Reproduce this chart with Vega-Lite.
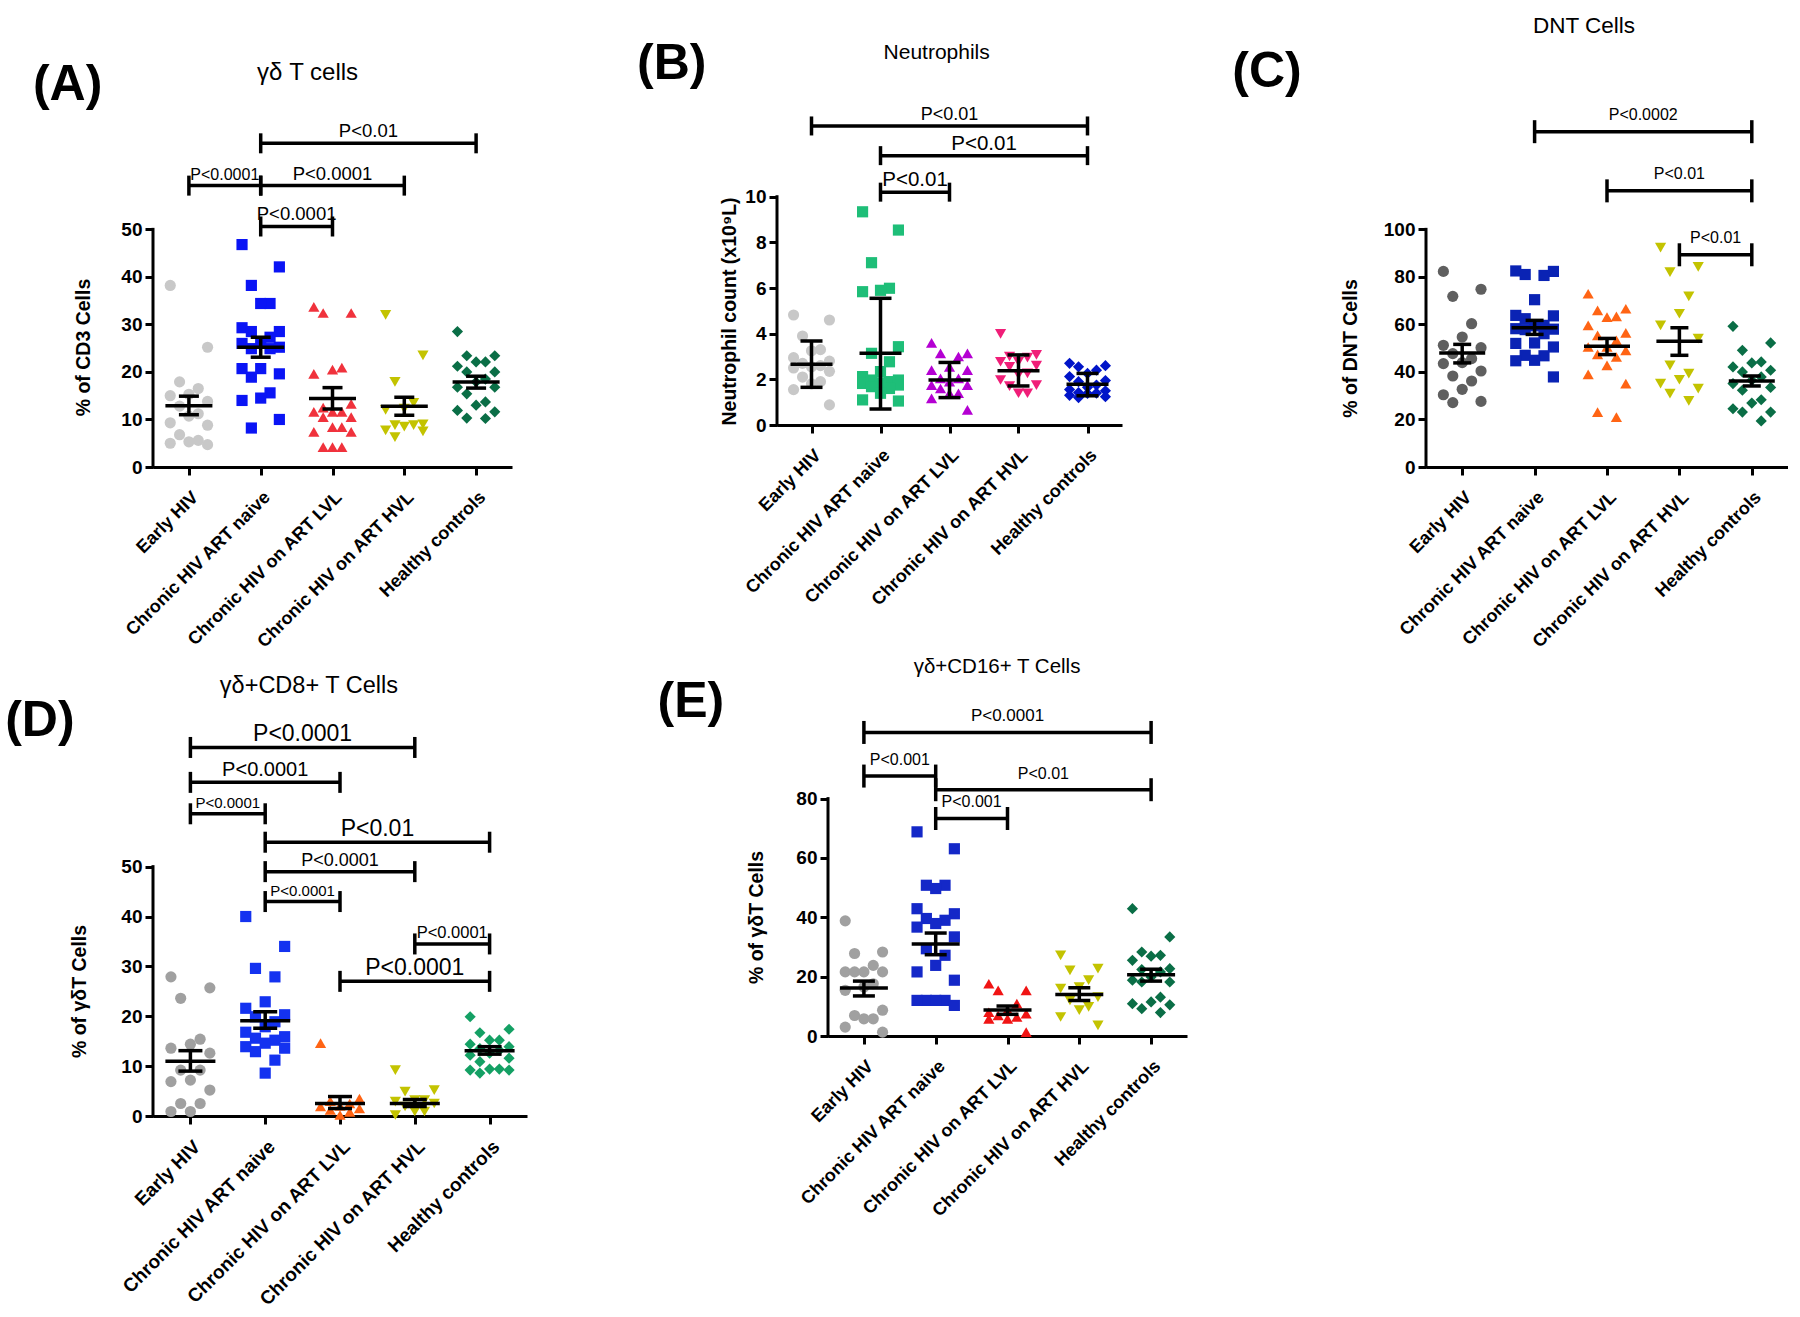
{
"$schema": "https://vega.github.io/schema/vega-lite/v6.json",
"background": "white",
"padding": {"left": 5, "top": 10, "right": 0, "bottom": 0},
"config": {
  "view": {"stroke": null},
  "font": "Liberation Sans",
  "axis": {"grid": false, "domainColor": "black", "domainWidth": 3, "tickColor": "black", "tickWidth": 3, "tickSize": 8, "labelColor": "black", "labelFont": "Liberation Sans", "labelFontWeight": "bold", "labelFontSize": 18, "labelPadding": 3, "titleFont": "Liberation Sans", "titleFontWeight": "bold", "titleFontSize": 19.5, "titleColor": "black"},
  "axisX": {"labelLimit": 400},
  "axisY": {"labelFontSize": 19},
  "text": {"font": "Liberation Sans", "color": "black"}
},
"datasets": {
  "A": [
    {"group":"Early HIV","value":38.2},{"group":"Early HIV","value":25.2},{"group":"Early HIV","value":17.9},{"group":"Early HIV","value":16.5},{"group":"Early HIV","value":15.3},{"group":"Early HIV","value":15.0},{"group":"Early HIV","value":13.8},{"group":"Early HIV","value":12.8},{"group":"Early HIV","value":11.2},{"group":"Early HIV","value":10.7},{"group":"Early HIV","value":9.3},{"group":"Early HIV","value":8.8},{"group":"Early HIV","value":6.8},{"group":"Early HIV","value":5.6},{"group":"Early HIV","value":5.3},{"group":"Early HIV","value":5.0},{"group":"Early HIV","value":4.7},
    {"group":"Chronic HIV ART naive","value":46.8},{"group":"Chronic HIV ART naive","value":42.1},{"group":"Chronic HIV ART naive","value":38.2},{"group":"Chronic HIV ART naive","value":34.4},{"group":"Chronic HIV ART naive","value":34.4},{"group":"Chronic HIV ART naive","value":29.3},{"group":"Chronic HIV ART naive","value":28.5},{"group":"Chronic HIV ART naive","value":28.5},{"group":"Chronic HIV ART naive","value":27.3},{"group":"Chronic HIV ART naive","value":26.3},{"group":"Chronic HIV ART naive","value":26.0},{"group":"Chronic HIV ART naive","value":25.2},{"group":"Chronic HIV ART naive","value":24.9},{"group":"Chronic HIV ART naive","value":24.9},{"group":"Chronic HIV ART naive","value":20.7},{"group":"Chronic HIV ART naive","value":20.7},{"group":"Chronic HIV ART naive","value":19.6},{"group":"Chronic HIV ART naive","value":18.9},{"group":"Chronic HIV ART naive","value":15.6},{"group":"Chronic HIV ART naive","value":14.5},{"group":"Chronic HIV ART naive","value":14.0},{"group":"Chronic HIV ART naive","value":10.0},{"group":"Chronic HIV ART naive","value":8.2},
    {"group":"Chronic HIV on ART LVL","value":33.7},{"group":"Chronic HIV on ART LVL","value":32.4},{"group":"Chronic HIV on ART LVL","value":32.4},{"group":"Chronic HIV on ART LVL","value":20.9},{"group":"Chronic HIV on ART LVL","value":20.5},{"group":"Chronic HIV on ART LVL","value":19.6},{"group":"Chronic HIV on ART LVL","value":13.3},{"group":"Chronic HIV on ART LVL","value":12.5},{"group":"Chronic HIV on ART LVL","value":11.6},{"group":"Chronic HIV on ART LVL","value":11.6},{"group":"Chronic HIV on ART LVL","value":11.6},{"group":"Chronic HIV on ART LVL","value":10.5},{"group":"Chronic HIV on ART LVL","value":10.5},{"group":"Chronic HIV on ART LVL","value":8.4},{"group":"Chronic HIV on ART LVL","value":8.4},{"group":"Chronic HIV on ART LVL","value":7.4},{"group":"Chronic HIV on ART LVL","value":7.4},{"group":"Chronic HIV on ART LVL","value":4.2},{"group":"Chronic HIV on ART LVL","value":4.2},{"group":"Chronic HIV on ART LVL","value":4.2},
    {"group":"Chronic HIV on ART HVL","value":32.0},{"group":"Chronic HIV on ART HVL","value":23.5},{"group":"Chronic HIV on ART HVL","value":17.9},{"group":"Chronic HIV on ART HVL","value":13.5},{"group":"Chronic HIV on ART HVL","value":12.3},{"group":"Chronic HIV on ART HVL","value":12.0},{"group":"Chronic HIV on ART HVL","value":9.0},{"group":"Chronic HIV on ART HVL","value":8.8},{"group":"Chronic HIV on ART HVL","value":8.8},{"group":"Chronic HIV on ART HVL","value":8.5},{"group":"Chronic HIV on ART HVL","value":7.7},{"group":"Chronic HIV on ART HVL","value":7.5},{"group":"Chronic HIV on ART HVL","value":6.3},
    {"group":"Healthy controls","value":28.5},{"group":"Healthy controls","value":23.4},{"group":"Healthy controls","value":23.4},{"group":"Healthy controls","value":22.1},{"group":"Healthy controls","value":22.1},{"group":"Healthy controls","value":21.2},{"group":"Healthy controls","value":20.0},{"group":"Healthy controls","value":20.0},{"group":"Healthy controls","value":18.5},{"group":"Healthy controls","value":17.9},{"group":"Healthy controls","value":16.8},{"group":"Healthy controls","value":16.8},{"group":"Healthy controls","value":15.4},{"group":"Healthy controls","value":13.7},{"group":"Healthy controls","value":13.0},{"group":"Healthy controls","value":11.9},{"group":"Healthy controls","value":11.6},{"group":"Healthy controls","value":10.3},{"group":"Healthy controls","value":10.2}
  ],
  "A_stats": [
    {"group":"Early HIV","mean":12.9,"lo":11.0,"hi":14.9},
    {"group":"Chronic HIV ART naive","mean":25.2,"lo":23.1,"hi":27.3},
    {"group":"Chronic HIV on ART LVL","mean":14.4,"lo":12.2,"hi":16.7},
    {"group":"Chronic HIV on ART HVL","mean":12.8,"lo":10.9,"hi":14.7},
    {"group":"Healthy controls","mean":17.9,"lo":16.6,"hi":19.1}
  ],
  "A_br": [
    {"from":"Chronic HIV ART naive","to":"Healthy controls","level":68.1,"label":"P<0.01"},
    {"from":"Early HIV","to":"Chronic HIV ART naive","level":59.2,"label":"P<0.0001"},
    {"from":"Chronic HIV ART naive","to":"Chronic HIV on ART HVL","level":59.2,"label":"P<0.0001"},
    {"from":"Chronic HIV ART naive","to":"Chronic HIV on ART LVL","level":50.6,"label":"P<0.0001"}
  ],
  "B": [
    {"group":"Early HIV","value":4.82},{"group":"Early HIV","value":4.6},{"group":"Early HIV","value":3.9},{"group":"Early HIV","value":3.3},{"group":"Early HIV","value":3.25},{"group":"Early HIV","value":2.95},{"group":"Early HIV","value":2.8},{"group":"Early HIV","value":2.7},{"group":"Early HIV","value":2.6},{"group":"Early HIV","value":2.55},{"group":"Early HIV","value":2.5},{"group":"Early HIV","value":2.35},{"group":"Early HIV","value":2.1},{"group":"Early HIV","value":1.9},{"group":"Early HIV","value":1.8},{"group":"Early HIV","value":1.55},{"group":"Early HIV","value":0.88},
    {"group":"Chronic HIV ART naive","value":9.34},{"group":"Chronic HIV ART naive","value":8.54},{"group":"Chronic HIV ART naive","value":7.11},{"group":"Chronic HIV ART naive","value":5.99},{"group":"Chronic HIV ART naive","value":5.9},{"group":"Chronic HIV ART naive","value":5.84},{"group":"Chronic HIV ART naive","value":3.43},{"group":"Chronic HIV ART naive","value":3.14},{"group":"Chronic HIV ART naive","value":2.77},{"group":"Chronic HIV ART naive","value":2.34},{"group":"Chronic HIV ART naive","value":2.12},{"group":"Chronic HIV ART naive","value":1.97},{"group":"Chronic HIV ART naive","value":1.97},{"group":"Chronic HIV ART naive","value":1.9},{"group":"Chronic HIV ART naive","value":1.85},{"group":"Chronic HIV ART naive","value":1.82},{"group":"Chronic HIV ART naive","value":1.75},{"group":"Chronic HIV ART naive","value":1.68},{"group":"Chronic HIV ART naive","value":1.6},{"group":"Chronic HIV ART naive","value":1.39},{"group":"Chronic HIV ART naive","value":1.1},{"group":"Chronic HIV ART naive","value":1.05},
    {"group":"Chronic HIV on ART LVL","value":3.6},{"group":"Chronic HIV on ART LVL","value":3.14},{"group":"Chronic HIV on ART LVL","value":3.14},{"group":"Chronic HIV on ART LVL","value":3.0},{"group":"Chronic HIV on ART LVL","value":2.55},{"group":"Chronic HIV on ART LVL","value":2.4},{"group":"Chronic HIV on ART LVL","value":2.4},{"group":"Chronic HIV on ART LVL","value":2.04},{"group":"Chronic HIV on ART LVL","value":2.04},{"group":"Chronic HIV on ART LVL","value":1.9},{"group":"Chronic HIV on ART LVL","value":1.75},{"group":"Chronic HIV on ART LVL","value":1.75},{"group":"Chronic HIV on ART LVL","value":1.6},{"group":"Chronic HIV on ART LVL","value":1.39},{"group":"Chronic HIV on ART LVL","value":1.39},{"group":"Chronic HIV on ART LVL","value":1.17},{"group":"Chronic HIV on ART LVL","value":0.66},
    {"group":"Chronic HIV on ART HVL","value":3.99},{"group":"Chronic HIV on ART HVL","value":3.07},{"group":"Chronic HIV on ART HVL","value":3.0},{"group":"Chronic HIV on ART HVL","value":2.95},{"group":"Chronic HIV on ART HVL","value":2.77},{"group":"Chronic HIV on ART HVL","value":2.77},{"group":"Chronic HIV on ART HVL","value":2.6},{"group":"Chronic HIV on ART HVL","value":2.55},{"group":"Chronic HIV on ART HVL","value":2.26},{"group":"Chronic HIV on ART HVL","value":2.2},{"group":"Chronic HIV on ART HVL","value":1.97},{"group":"Chronic HIV on ART HVL","value":1.75},{"group":"Chronic HIV on ART HVL","value":1.7},{"group":"Chronic HIV on ART HVL","value":1.39},{"group":"Chronic HIV on ART HVL","value":1.39},
    {"group":"Healthy controls","value":2.7},{"group":"Healthy controls","value":2.6},{"group":"Healthy controls","value":2.55},{"group":"Healthy controls","value":2.4},{"group":"Healthy controls","value":2.26},{"group":"Healthy controls","value":2.12},{"group":"Healthy controls","value":1.95},{"group":"Healthy controls","value":1.9},{"group":"Healthy controls","value":1.75},{"group":"Healthy controls","value":1.65},{"group":"Healthy controls","value":1.55},{"group":"Healthy controls","value":1.5},{"group":"Healthy controls","value":1.42},{"group":"Healthy controls","value":1.4},{"group":"Healthy controls","value":1.38},{"group":"Healthy controls","value":1.3},{"group":"Healthy controls","value":1.24},{"group":"Healthy controls","value":1.2}
  ],
  "B_stats": [
    {"group":"Early HIV","mean":2.66,"lo":1.65,"hi":3.68},
    {"group":"Chronic HIV ART naive","mean":3.14,"lo":0.70,"hi":5.55},
    {"group":"Chronic HIV on ART LVL","mean":1.97,"lo":1.20,"hi":2.74},
    {"group":"Chronic HIV on ART HVL","mean":2.38,"lo":1.71,"hi":3.07},
    {"group":"Healthy controls","mean":1.78,"lo":1.28,"hi":2.26}
  ],
  "B_br": [
    {"from":"Early HIV","to":"Healthy controls","level":13.1,"label":"P<0.01"},
    {"from":"Chronic HIV ART naive","to":"Healthy controls","level":11.8,"label":"P<0.01"},
    {"from":"Chronic HIV ART naive","to":"Chronic HIV on ART LVL","level":10.2,"label":"P<0.01"}
  ],
  "C": [
    {"group":"Early HIV","value":82.3},{"group":"Early HIV","value":74.8},{"group":"Early HIV","value":71.8},{"group":"Early HIV","value":60.3},{"group":"Early HIV","value":54.7},{"group":"Early HIV","value":51.2},{"group":"Early HIV","value":50.2},{"group":"Early HIV","value":47.7},{"group":"Early HIV","value":45.6},{"group":"Early HIV","value":43.9},{"group":"Early HIV","value":43.5},{"group":"Early HIV","value":40.4},{"group":"Early HIV","value":38.3},{"group":"Early HIV","value":36.2},{"group":"Early HIV","value":32.7},{"group":"Early HIV","value":30.4},{"group":"Early HIV","value":27.6},{"group":"Early HIV","value":27.1},
    {"group":"Chronic HIV ART naive","value":82.5},{"group":"Chronic HIV ART naive","value":82.3},{"group":"Chronic HIV ART naive","value":81.0},{"group":"Chronic HIV ART naive","value":80.6},{"group":"Chronic HIV ART naive","value":70.4},{"group":"Chronic HIV ART naive","value":63.8},{"group":"Chronic HIV ART naive","value":63.6},{"group":"Chronic HIV ART naive","value":62.4},{"group":"Chronic HIV ART naive","value":59.6},{"group":"Chronic HIV ART naive","value":59.4},{"group":"Chronic HIV ART naive","value":58.2},{"group":"Chronic HIV ART naive","value":58.0},{"group":"Chronic HIV ART naive","value":57.8},{"group":"Chronic HIV ART naive","value":56.1},{"group":"Chronic HIV ART naive","value":52.2},{"group":"Chronic HIV ART naive","value":52.0},{"group":"Chronic HIV ART naive","value":50.5},{"group":"Chronic HIV ART naive","value":47.0},{"group":"Chronic HIV ART naive","value":46.8},{"group":"Chronic HIV ART naive","value":44.9},{"group":"Chronic HIV ART naive","value":44.7},{"group":"Chronic HIV ART naive","value":37.9},
    {"group":"Chronic HIV on ART LVL","value":72.9},{"group":"Chronic HIV on ART LVL","value":66.6},{"group":"Chronic HIV on ART LVL","value":65.9},{"group":"Chronic HIV on ART LVL","value":63.4},{"group":"Chronic HIV on ART LVL","value":63.1},{"group":"Chronic HIV on ART LVL","value":59.6},{"group":"Chronic HIV on ART LVL","value":56.4},{"group":"Chronic HIV on ART LVL","value":55.4},{"group":"Chronic HIV on ART LVL","value":53.3},{"group":"Chronic HIV on ART LVL","value":50.5},{"group":"Chronic HIV on ART LVL","value":50.5},{"group":"Chronic HIV on ART LVL","value":49.1},{"group":"Chronic HIV on ART LVL","value":47.4},{"group":"Chronic HIV on ART LVL","value":46.3},{"group":"Chronic HIV on ART LVL","value":42.8},{"group":"Chronic HIV on ART LVL","value":39.0},{"group":"Chronic HIV on ART LVL","value":35.1},{"group":"Chronic HIV on ART LVL","value":23.1},{"group":"Chronic HIV on ART LVL","value":21.0},
    {"group":"Chronic HIV on ART HVL","value":92.3},{"group":"Chronic HIV on ART HVL","value":84.2},{"group":"Chronic HIV on ART HVL","value":82.0},{"group":"Chronic HIV on ART HVL","value":71.8},{"group":"Chronic HIV on ART HVL","value":64.5},{"group":"Chronic HIV on ART HVL","value":59.6},{"group":"Chronic HIV on ART HVL","value":54.0},{"group":"Chronic HIV on ART HVL","value":42.8},{"group":"Chronic HIV on ART HVL","value":39.3},{"group":"Chronic HIV on ART HVL","value":36.7},{"group":"Chronic HIV on ART HVL","value":35.1},{"group":"Chronic HIV on ART HVL","value":33.0},{"group":"Chronic HIV on ART HVL","value":30.9},{"group":"Chronic HIV on ART HVL","value":27.8},
    {"group":"Healthy controls","value":59.2},{"group":"Healthy controls","value":52.2},{"group":"Healthy controls","value":49.1},{"group":"Healthy controls","value":44.2},{"group":"Healthy controls","value":43.8},{"group":"Healthy controls","value":42.1},{"group":"Healthy controls","value":40.7},{"group":"Healthy controls","value":40.0},{"group":"Healthy controls","value":37.9},{"group":"Healthy controls","value":36.5},{"group":"Healthy controls","value":35.1},{"group":"Healthy controls","value":33.5},{"group":"Healthy controls","value":32.3},{"group":"Healthy controls","value":28.3},{"group":"Healthy controls","value":26.9},{"group":"Healthy controls","value":24.5},{"group":"Healthy controls","value":23.1},{"group":"Healthy controls","value":23.1},{"group":"Healthy controls","value":19.4}
  ],
  "C_stats": [
    {"group":"Early HIV","mean":48.0,"lo":43.8,"hi":51.6},
    {"group":"Chronic HIV ART naive","mean":58.6,"lo":55.8,"hi":61.7},
    {"group":"Chronic HIV on ART LVL","mean":50.8,"lo":47.3,"hi":54.1},
    {"group":"Chronic HIV on ART HVL","mean":52.9,"lo":47.0,"hi":58.6},
    {"group":"Healthy controls","mean":36.2,"lo":34.1,"hi":38.3}
  ],
  "C_br": [
    {"from":"Chronic HIV ART naive","to":"Healthy controls","level":141.1,"label":"P<0.0002"},
    {"from":"Chronic HIV on ART LVL","to":"Healthy controls","level":116.2,"label":"P<0.01"},
    {"from":"Chronic HIV on ART HVL","to":"Healthy controls","level":89.3,"label":"P<0.01"}
  ],
  "D": [
    {"group":"Early HIV","value":27.9},{"group":"Early HIV","value":25.7},{"group":"Early HIV","value":23.6},{"group":"Early HIV","value":15.4},{"group":"Early HIV","value":14.4},{"group":"Early HIV","value":13.6},{"group":"Early HIV","value":12.6},{"group":"Early HIV","value":9.2},{"group":"Early HIV","value":9.2},{"group":"Early HIV","value":7.2},{"group":"Early HIV","value":6.9},{"group":"Early HIV","value":5.2},{"group":"Early HIV","value":2.5},{"group":"Early HIV","value":2.5},{"group":"Early HIV","value":0.9},{"group":"Early HIV","value":0.9},
    {"group":"Chronic HIV ART naive","value":40.0},{"group":"Chronic HIV ART naive","value":34.0},{"group":"Chronic HIV ART naive","value":29.6},{"group":"Chronic HIV ART naive","value":27.9},{"group":"Chronic HIV ART naive","value":22.9},{"group":"Chronic HIV ART naive","value":21.6},{"group":"Chronic HIV ART naive","value":20.3},{"group":"Chronic HIV ART naive","value":19.9},{"group":"Chronic HIV ART naive","value":18.9},{"group":"Chronic HIV ART naive","value":17.9},{"group":"Chronic HIV ART naive","value":16.8},{"group":"Chronic HIV ART naive","value":15.9},{"group":"Chronic HIV ART naive","value":15.6},{"group":"Chronic HIV ART naive","value":15.2},{"group":"Chronic HIV ART naive","value":14.6},{"group":"Chronic HIV ART naive","value":13.9},{"group":"Chronic HIV ART naive","value":13.6},{"group":"Chronic HIV ART naive","value":12.9},{"group":"Chronic HIV ART naive","value":11.2},{"group":"Chronic HIV ART naive","value":8.6},
    {"group":"Chronic HIV on ART LVL","value":14.6},{"group":"Chronic HIV on ART LVL","value":3.5},{"group":"Chronic HIV on ART LVL","value":3.0},{"group":"Chronic HIV on ART LVL","value":2.5},{"group":"Chronic HIV on ART LVL","value":2.0},{"group":"Chronic HIV on ART LVL","value":1.9},{"group":"Chronic HIV on ART LVL","value":1.5},{"group":"Chronic HIV on ART LVL","value":1.2},{"group":"Chronic HIV on ART LVL","value":0.8},{"group":"Chronic HIV on ART LVL","value":0.2},
    {"group":"Chronic HIV on ART HVL","value":9.2},{"group":"Chronic HIV on ART HVL","value":5.2},{"group":"Chronic HIV on ART HVL","value":4.9},{"group":"Chronic HIV on ART HVL","value":3.2},{"group":"Chronic HIV on ART HVL","value":3.2},{"group":"Chronic HIV on ART HVL","value":2.9},{"group":"Chronic HIV on ART HVL","value":2.5},{"group":"Chronic HIV on ART HVL","value":1.9},{"group":"Chronic HIV on ART HVL","value":0.9},{"group":"Chronic HIV on ART HVL","value":0.9},{"group":"Chronic HIV on ART HVL","value":0.2},
    {"group":"Healthy controls","value":19.9},{"group":"Healthy controls","value":17.4},{"group":"Healthy controls","value":16.7},{"group":"Healthy controls","value":15.2},{"group":"Healthy controls","value":15.2},{"group":"Healthy controls","value":14.4},{"group":"Healthy controls","value":13.9},{"group":"Healthy controls","value":13.5},{"group":"Healthy controls","value":13.2},{"group":"Healthy controls","value":12.6},{"group":"Healthy controls","value":12.2},{"group":"Healthy controls","value":11.6},{"group":"Healthy controls","value":10.9},{"group":"Healthy controls","value":9.4},{"group":"Healthy controls","value":9.4},{"group":"Healthy controls","value":9.2},{"group":"Healthy controls","value":9.2},{"group":"Healthy controls","value":8.6}
  ],
  "D_stats": [
    {"group":"Early HIV","mean":11.0,"lo":9.0,"hi":13.1},
    {"group":"Chronic HIV ART naive","mean":19.1,"lo":17.6,"hi":20.9},
    {"group":"Chronic HIV on ART LVL","mean":2.5,"lo":1.5,"hi":3.9},
    {"group":"Chronic HIV on ART HVL","mean":2.5,"lo":1.9,"hi":3.3},
    {"group":"Healthy controls","mean":13.1,"lo":12.4,"hi":13.9}
  ],
  "D_br": [
    {"from":"Early HIV","to":"Chronic HIV on ART HVL","level":73.9,"label":"P<0.0001"},
    {"from":"Early HIV","to":"Chronic HIV on ART LVL","level":66.9,"label":"P<0.0001"},
    {"from":"Early HIV","to":"Chronic HIV ART naive","level":60.6,"label":"P<0.0001"},
    {"from":"Chronic HIV ART naive","to":"Healthy controls","level":54.9,"label":"P<0.01"},
    {"from":"Chronic HIV ART naive","to":"Chronic HIV on ART HVL","level":49.0,"label":"P<0.0001"},
    {"from":"Chronic HIV ART naive","to":"Chronic HIV on ART LVL","level":43.0,"label":"P<0.0001"},
    {"from":"Chronic HIV on ART HVL","to":"Healthy controls","level":34.5,"label":"P<0.0001"},
    {"from":"Chronic HIV on ART LVL","to":"Healthy controls","level":27.0,"label":"P<0.0001"}
  ],
  "E": [
    {"group":"Early HIV","value":38.8},{"group":"Early HIV","value":28.3},{"group":"Early HIV","value":27.8},{"group":"Early HIV","value":23.8},{"group":"Early HIV","value":21.6},{"group":"Early HIV","value":21.6},{"group":"Early HIV","value":21.6},{"group":"Early HIV","value":21.6},{"group":"Early HIV","value":17.6},{"group":"Early HIV","value":16.5},{"group":"Early HIV","value":15.4},{"group":"Early HIV","value":8.7},{"group":"Early HIV","value":6.9},{"group":"Early HIV","value":5.8},{"group":"Early HIV","value":5.8},{"group":"Early HIV","value":3.0},{"group":"Early HIV","value":1.3},
    {"group":"Chronic HIV ART naive","value":68.8},{"group":"Chronic HIV ART naive","value":63.1},{"group":"Chronic HIV ART naive","value":50.8},{"group":"Chronic HIV ART naive","value":50.8},{"group":"Chronic HIV ART naive","value":49.7},{"group":"Chronic HIV ART naive","value":42.9},{"group":"Chronic HIV ART naive","value":41.2},{"group":"Chronic HIV ART naive","value":39.6},{"group":"Chronic HIV ART naive","value":39.0},{"group":"Chronic HIV ART naive","value":37.9},{"group":"Chronic HIV ART naive","value":36.7},{"group":"Chronic HIV ART naive","value":33.4},{"group":"Chronic HIV ART naive","value":29.4},{"group":"Chronic HIV ART naive","value":27.2},{"group":"Chronic HIV ART naive","value":23.8},{"group":"Chronic HIV ART naive","value":21.6},{"group":"Chronic HIV ART naive","value":18.8},{"group":"Chronic HIV ART naive","value":12.0},{"group":"Chronic HIV ART naive","value":12.0},{"group":"Chronic HIV ART naive","value":12.0},{"group":"Chronic HIV ART naive","value":12.0},{"group":"Chronic HIV ART naive","value":10.3},
    {"group":"Chronic HIV on ART LVL","value":17.6},{"group":"Chronic HIV on ART LVL","value":15.4},{"group":"Chronic HIV on ART LVL","value":15.4},{"group":"Chronic HIV on ART LVL","value":10.9},{"group":"Chronic HIV on ART LVL","value":8.7},{"group":"Chronic HIV on ART LVL","value":8.0},{"group":"Chronic HIV on ART LVL","value":7.5},{"group":"Chronic HIV on ART LVL","value":6.9},{"group":"Chronic HIV on ART LVL","value":6.4},{"group":"Chronic HIV on ART LVL","value":5.8},{"group":"Chronic HIV on ART LVL","value":5.8},{"group":"Chronic HIV on ART LVL","value":1.3},
    {"group":"Chronic HIV on ART HVL","value":27.2},{"group":"Chronic HIV on ART HVL","value":22.7},{"group":"Chronic HIV on ART HVL","value":22.1},{"group":"Chronic HIV on ART HVL","value":18.8},{"group":"Chronic HIV on ART HVL","value":16.5},{"group":"Chronic HIV on ART HVL","value":16.0},{"group":"Chronic HIV on ART HVL","value":13.1},{"group":"Chronic HIV on ART HVL","value":12.0},{"group":"Chronic HIV on ART HVL","value":9.8},{"group":"Chronic HIV on ART HVL","value":8.7},{"group":"Chronic HIV on ART HVL","value":6.4},{"group":"Chronic HIV on ART HVL","value":3.6},
    {"group":"Healthy controls","value":42.9},{"group":"Healthy controls","value":33.4},{"group":"Healthy controls","value":28.3},{"group":"Healthy controls","value":27.2},{"group":"Healthy controls","value":26.9},{"group":"Healthy controls","value":25.5},{"group":"Healthy controls","value":22.7},{"group":"Healthy controls","value":22.4},{"group":"Healthy controls","value":21.6},{"group":"Healthy controls","value":19.9},{"group":"Healthy controls","value":18.8},{"group":"Healthy controls","value":18.2},{"group":"Healthy controls","value":18.2},{"group":"Healthy controls","value":13.1},{"group":"Healthy controls","value":11.5},{"group":"Healthy controls","value":10.9},{"group":"Healthy controls","value":10.5},{"group":"Healthy controls","value":9.2},{"group":"Healthy controls","value":7.9}
  ],
  "E_stats": [
    {"group":"Early HIV","mean":16.2,"lo":13.5,"hi":18.5},
    {"group":"Chronic HIV ART naive","mean":31.0,"lo":27.4,"hi":34.7},
    {"group":"Chronic HIV on ART LVL","mean":8.8,"lo":7.3,"hi":10.1},
    {"group":"Chronic HIV on ART HVL","mean":14.0,"lo":12.0,"hi":16.3},
    {"group":"Healthy controls","mean":20.6,"lo":18.5,"hi":22.5}
  ],
  "E_br": [
    {"from":"Early HIV","to":"Healthy controls","level":102.3,"label":"P<0.0001"},
    {"from":"Early HIV","to":"Chronic HIV ART naive","level":87.6,"label":"P<0.001"},
    {"from":"Chronic HIV ART naive","to":"Healthy controls","level":83.0,"label":"P<0.01"},
    {"from":"Chronic HIV ART naive","to":"Chronic HIV on ART LVL","level":73.3,"label":"P<0.001"}
  ]
},
"resolve": {"scale": {"color": "independent", "shape": "independent"}},
"vconcat": [
 {"resolve": {"scale": {"color": "independent", "shape": "independent"}},
  "hconcat": [
  {"width": 359, "height": 457,
   "layer": [
    {"data": {"name": "A"},
     "transform": [
       {"calculate": "indexof(['Early HIV','Chronic HIV ART naive','Chronic HIV on ART LVL','Chronic HIV on ART HVL','Healthy controls'], datum.group)", "as": "gi"},
       {"window": [{"op": "row_number", "as": "rk"}], "groupby": ["group"], "sort": [{"field": "value", "order": "descending"}]},
       {"calculate": "datum.gi + [0, -0.26, 0.26, -0.13, 0.13][datum.rk % 5]", "as": "xj"}],
     "mark": {"type": "point", "filled": true, "opacity": 1, "size": 125},
     "encoding": {
       "x": {"field": "xj", "type": "quantitative", "scale": {"domain": [-0.5, 4.5], "nice": false, "zero": false},
             "axis": {"values": [0,1,2,3,4], "title": null, "labelExpr": "['Early HIV','Chronic HIV ART naive','Chronic HIV on ART LVL','Chronic HIV on ART HVL','Healthy controls'][datum.value]", "labelAngle": -45, "labelAlign": "right", "labelBaseline": "top", "labelPadding": 13, "labelOverlap": false, "labelFlush": false}},
       "y": {"field": "value", "type": "quantitative", "scale": {"domain": [0, 96.15], "nice": false},
             "axis": {"values": [0,10,20,30,40,50], "domain": false, "title": "% of CD3  Cells", "titleY": 337, "titlePadding": 27, "labelOverlap": false}},
       "color": {"field": "group", "type": "nominal", "legend": null, "scale": {"domain": ["Early HIV","Chronic HIV ART naive","Chronic HIV on ART LVL","Chronic HIV on ART HVL","Healthy controls"], "range": ["#c8c8c8","#0a14f5","#f0323c","#c3c300","#0a6e46"]}},
       "shape": {"field": "group", "type": "nominal", "legend": null, "scale": {"domain": ["Early HIV","Chronic HIV ART naive","Chronic HIV on ART LVL","Chronic HIV on ART HVL","Healthy controls"], "range": ["circle","square","triangle-up","triangle-down","diamond"]}}
     }},
    {"data": {"values": [{}]}, "mark": {"type": "rule", "color": "black", "strokeWidth": 3, "strokeCap": "square"},
     "encoding": {"x": {"datum": -0.5}, "y": {"datum": 0}, "y2": {"datum": 50}}},
    {"data": {"name": "A_stats"}, "transform": [{"calculate": "indexof(['Early HIV','Chronic HIV ART naive','Chronic HIV on ART LVL','Chronic HIV on ART HVL','Healthy controls'], datum.group)", "as": "gi"}],
     "mark": {"type": "rule", "color": "black", "strokeWidth": 3.5},
     "encoding": {"x": {"field": "gi", "type": "quantitative"}, "y": {"field": "lo", "type": "quantitative"}, "y2": {"field": "hi"}}},
    {"data": {"name": "A_stats"}, "transform": [{"calculate": "indexof(['Early HIV','Chronic HIV ART naive','Chronic HIV on ART LVL','Chronic HIV on ART HVL','Healthy controls'], datum.group)", "as": "gi"}],
     "mark": {"type": "tick", "orient": "horizontal", "color": "black", "opacity": 1, "size": 47, "thickness": 3.5},
     "encoding": {"x": {"field": "gi", "type": "quantitative"}, "y": {"field": "mean", "type": "quantitative"}}},
    {"data": {"name": "A_stats"}, "transform": [{"calculate": "indexof(['Early HIV','Chronic HIV ART naive','Chronic HIV on ART LVL','Chronic HIV on ART HVL','Healthy controls'], datum.group)", "as": "gi"}, {"fold": ["lo", "hi"], "as": ["end", "yv"]}],
     "mark": {"type": "tick", "orient": "horizontal", "color": "black", "opacity": 1, "size": 20, "thickness": 3.5},
     "encoding": {"x": {"field": "gi", "type": "quantitative"}, "y": {"field": "yv", "type": "quantitative"}}},
    {"data": {"name": "A_br"}, "transform": [{"calculate": "indexof(['Early HIV','Chronic HIV ART naive','Chronic HIV on ART LVL','Chronic HIV on ART HVL','Healthy controls'], datum.from)", "as": "g1"}, {"calculate": "indexof(['Early HIV','Chronic HIV ART naive','Chronic HIV on ART LVL','Chronic HIV on ART HVL','Healthy controls'], datum.to)", "as": "g2"}],
     "mark": {"type": "rule", "color": "black", "strokeWidth": 3.5},
     "encoding": {"x": {"field": "g1", "type": "quantitative"}, "x2": {"field": "g2"}, "y": {"field": "level", "type": "quantitative"}}},
    {"data": {"name": "A_br"}, "transform": [{"fold": ["from", "to"], "as": ["end", "grp"]}, {"calculate": "indexof(['Early HIV','Chronic HIV ART naive','Chronic HIV on ART LVL','Chronic HIV on ART HVL','Healthy controls'], datum.grp)", "as": "gi"}],
     "mark": {"type": "tick", "orient": "vertical", "color": "black", "opacity": 1, "size": 20, "thickness": 3.5},
     "encoding": {"x": {"field": "gi", "type": "quantitative"}, "y": {"field": "level", "type": "quantitative"}}},
    {"data": {"name": "A_br"}, "transform": [{"calculate": "indexof(['Early HIV','Chronic HIV ART naive','Chronic HIV on ART LVL','Chronic HIV on ART HVL','Healthy controls'], datum.from)", "as": "g1"}, {"calculate": "indexof(['Early HIV','Chronic HIV ART naive','Chronic HIV on ART LVL','Chronic HIV on ART HVL','Healthy controls'], datum.to)", "as": "g2"}, {"calculate": "(datum.g1 + datum.g2) / 2", "as": "xm"}],
     "mark": {"type": "text", "baseline": "alphabetic", "dy": -6},
     "encoding": {"x": {"field": "xm", "type": "quantitative"}, "y": {"field": "level", "type": "quantitative"}, "text": {"field": "label"},
                  "size": {"condition": {"test": "datum.from == 'Early HIV'", "value": 16}, "value": 18.5}}},
    {"data": {"values": [{"label": "γδ T cells"}]}, "mark": {"type": "text", "fontSize": 24},
     "encoding": {"x": {"datum": 1.653}, "y": {"datum": 82.9}, "text": {"field": "label"}}},
    {"data": {"values": [{"label": "(A)"}]}, "mark": {"type": "text", "fontSize": 50, "fontWeight": "bold"},
     "encoding": {"x": {"datum": -1.689}, "y": {"datum": 80.35}, "text": {"field": "label"}}}
   ]},
  {"resolve": {"scale": {"color": "independent", "shape": "independent"}},
   "hconcat": [
   {"width": 345, "height": 415,
    "layer": [
     {"data": {"name": "B"},
      "transform": [
        {"calculate": "indexof(['Early HIV','Chronic HIV ART naive','Chronic HIV on ART LVL','Chronic HIV on ART HVL','Healthy controls'], datum.group)", "as": "gi"},
        {"window": [{"op": "row_number", "as": "rk"}], "groupby": ["group"], "sort": [{"field": "value", "order": "descending"}]},
        {"calculate": "datum.gi + [0, -0.26, 0.26, -0.13, 0.13][datum.rk % 5]", "as": "xj"}],
      "mark": {"type": "point", "filled": true, "opacity": 1, "size": 125},
      "encoding": {
        "x": {"field": "xj", "type": "quantitative", "scale": {"domain": [-0.5, 4.5], "nice": false, "zero": false},
              "axis": {"values": [0,1,2,3,4], "title": null, "labelExpr": "['Early HIV','Chronic HIV ART naive','Chronic HIV on ART LVL','Chronic HIV on ART HVL','Healthy controls'][datum.value]", "labelAngle": -45, "labelAlign": "right", "labelBaseline": "top", "labelPadding": 13, "labelOverlap": false, "labelFlush": false}},
        "y": {"field": "value", "type": "quantitative", "scale": {"domain": [0, 18.18], "nice": false},
              "axis": {"values": [0,2,4,6,8,10], "domain": false, "title": "Neutrophil count (x10⁹L)", "titleY": 301, "titlePadding": 5, "labelOverlap": false}},
        "color": {"field": "group", "type": "nominal", "legend": null, "scale": {"domain": ["Early HIV","Chronic HIV ART naive","Chronic HIV on ART LVL","Chronic HIV on ART HVL","Healthy controls"], "range": ["#c8c8c8","#1ebe78","#b400d2","#f01e78","#0014c8"]}},
        "shape": {"field": "group", "type": "nominal", "legend": null, "scale": {"domain": ["Early HIV","Chronic HIV ART naive","Chronic HIV on ART LVL","Chronic HIV on ART HVL","Healthy controls"], "range": ["circle","square","triangle-up","triangle-down","diamond"]}}
      }},
     {"data": {"values": [{}]}, "mark": {"type": "rule", "color": "black", "strokeWidth": 3, "strokeCap": "square"},
      "encoding": {"x": {"datum": -0.5}, "y": {"datum": 0}, "y2": {"datum": 10}}},
     {"data": {"name": "B_stats"}, "transform": [{"calculate": "indexof(['Early HIV','Chronic HIV ART naive','Chronic HIV on ART LVL','Chronic HIV on ART HVL','Healthy controls'], datum.group)", "as": "gi"}],
      "mark": {"type": "rule", "color": "black", "strokeWidth": 3.5},
      "encoding": {"x": {"field": "gi", "type": "quantitative"}, "y": {"field": "lo", "type": "quantitative"}, "y2": {"field": "hi"}}},
     {"data": {"name": "B_stats"}, "transform": [{"calculate": "indexof(['Early HIV','Chronic HIV ART naive','Chronic HIV on ART LVL','Chronic HIV on ART HVL','Healthy controls'], datum.group)", "as": "gi"}],
      "mark": {"type": "tick", "orient": "horizontal", "color": "black", "opacity": 1, "size": 42, "thickness": 3.5},
      "encoding": {"x": {"field": "gi", "type": "quantitative"}, "y": {"field": "mean", "type": "quantitative"}}},
     {"data": {"name": "B_stats"}, "transform": [{"calculate": "indexof(['Early HIV','Chronic HIV ART naive','Chronic HIV on ART LVL','Chronic HIV on ART HVL','Healthy controls'], datum.group)", "as": "gi"}, {"fold": ["lo", "hi"], "as": ["end", "yv"]}],
      "mark": {"type": "tick", "orient": "horizontal", "color": "black", "opacity": 1, "size": 22, "thickness": 3.5},
      "encoding": {"x": {"field": "gi", "type": "quantitative"}, "y": {"field": "yv", "type": "quantitative"}}},
     {"data": {"name": "B_br"}, "transform": [{"calculate": "indexof(['Early HIV','Chronic HIV ART naive','Chronic HIV on ART LVL','Chronic HIV on ART HVL','Healthy controls'], datum.from)", "as": "g1"}, {"calculate": "indexof(['Early HIV','Chronic HIV ART naive','Chronic HIV on ART LVL','Chronic HIV on ART HVL','Healthy controls'], datum.to)", "as": "g2"}],
      "mark": {"type": "rule", "color": "black", "strokeWidth": 3.5},
      "encoding": {"x": {"field": "g1", "type": "quantitative"}, "x2": {"field": "g2"}, "y": {"field": "level", "type": "quantitative"}}},
     {"data": {"name": "B_br"}, "transform": [{"fold": ["from", "to"], "as": ["end", "grp"]}, {"calculate": "indexof(['Early HIV','Chronic HIV ART naive','Chronic HIV on ART LVL','Chronic HIV on ART HVL','Healthy controls'], datum.grp)", "as": "gi"}],
      "mark": {"type": "tick", "orient": "vertical", "color": "black", "opacity": 1, "size": 19, "thickness": 3.5},
      "encoding": {"x": {"field": "gi", "type": "quantitative"}, "y": {"field": "level", "type": "quantitative"}}},
     {"data": {"name": "B_br"}, "transform": [{"calculate": "indexof(['Early HIV','Chronic HIV ART naive','Chronic HIV on ART LVL','Chronic HIV on ART HVL','Healthy controls'], datum.from)", "as": "g1"}, {"calculate": "indexof(['Early HIV','Chronic HIV ART naive','Chronic HIV on ART LVL','Chronic HIV on ART HVL','Healthy controls'], datum.to)", "as": "g2"}, {"calculate": "(datum.g1 + datum.g2) / 2", "as": "xm"}],
      "mark": {"type": "text", "baseline": "alphabetic", "dy": -6},
      "encoding": {"x": {"field": "xm", "type": "quantitative"}, "y": {"field": "level", "type": "quantitative"}, "text": {"field": "label"},
                   "size": {"condition": {"test": "datum.from == 'Early HIV'", "value": 18}, "value": 20.5}}},
     {"data": {"values": [{"label": "Neutrophils"}]}, "mark": {"type": "text", "fontSize": 21},
      "encoding": {"x": {"datum": 1.814}, "y": {"datum": 16.28}, "text": {"field": "label"}}},
     {"data": {"values": [{"label": "(B)"}]}, "mark": {"type": "text", "fontSize": 50, "fontWeight": "bold"},
      "encoding": {"x": {"datum": -2.026}, "y": {"datum": 15.8}, "text": {"field": "label"}}}
    ]},
   {"width": 362, "height": 457,
    "layer": [
     {"data": {"name": "C"},
      "transform": [
        {"calculate": "indexof(['Early HIV','Chronic HIV ART naive','Chronic HIV on ART LVL','Chronic HIV on ART HVL','Healthy controls'], datum.group)", "as": "gi"},
        {"window": [{"op": "row_number", "as": "rk"}], "groupby": ["group"], "sort": [{"field": "value", "order": "descending"}]},
        {"calculate": "datum.gi + [0, -0.26, 0.26, -0.13, 0.13][datum.rk % 5]", "as": "xj"}],
      "mark": {"type": "point", "filled": true, "opacity": 1, "size": 125},
      "encoding": {
        "x": {"field": "xj", "type": "quantitative", "scale": {"domain": [-0.5, 4.5], "nice": false, "zero": false},
              "axis": {"values": [0,1,2,3,4], "title": null, "labelExpr": "['Early HIV','Chronic HIV ART naive','Chronic HIV on ART LVL','Chronic HIV on ART HVL','Healthy controls'][datum.value]", "labelAngle": -45, "labelAlign": "right", "labelBaseline": "top", "labelPadding": 13, "labelOverlap": false, "labelFlush": false}},
        "y": {"field": "value", "type": "quantitative", "scale": {"domain": [0, 192.3], "nice": false},
              "axis": {"values": [0,20,40,60,80,100], "domain": false, "title": "% of DNT Cells", "titleY": 338, "titlePadding": 23, "labelOverlap": false}},
        "color": {"field": "group", "type": "nominal", "legend": null, "scale": {"domain": ["Early HIV","Chronic HIV ART naive","Chronic HIV on ART LVL","Chronic HIV on ART HVL","Healthy controls"], "range": ["#5f5f5f","#0a23b4","#ff6414","#c3c300","#0a6e46"]}},
        "shape": {"field": "group", "type": "nominal", "legend": null, "scale": {"domain": ["Early HIV","Chronic HIV ART naive","Chronic HIV on ART LVL","Chronic HIV on ART HVL","Healthy controls"], "range": ["circle","square","triangle-up","triangle-down","diamond"]}}
      }},
     {"data": {"values": [{}]}, "mark": {"type": "rule", "color": "black", "strokeWidth": 3, "strokeCap": "square"},
      "encoding": {"x": {"datum": -0.5}, "y": {"datum": 0}, "y2": {"datum": 100}}},
     {"data": {"name": "C_stats"}, "transform": [{"calculate": "indexof(['Early HIV','Chronic HIV ART naive','Chronic HIV on ART LVL','Chronic HIV on ART HVL','Healthy controls'], datum.group)", "as": "gi"}],
      "mark": {"type": "rule", "color": "black", "strokeWidth": 3.5},
      "encoding": {"x": {"field": "gi", "type": "quantitative"}, "y": {"field": "lo", "type": "quantitative"}, "y2": {"field": "hi"}}},
     {"data": {"name": "C_stats"}, "transform": [{"calculate": "indexof(['Early HIV','Chronic HIV ART naive','Chronic HIV on ART LVL','Chronic HIV on ART HVL','Healthy controls'], datum.group)", "as": "gi"}],
      "mark": {"type": "tick", "orient": "horizontal", "color": "black", "opacity": 1, "size": 46, "thickness": 3.5},
      "encoding": {"x": {"field": "gi", "type": "quantitative"}, "y": {"field": "mean", "type": "quantitative"}}},
     {"data": {"name": "C_stats"}, "transform": [{"calculate": "indexof(['Early HIV','Chronic HIV ART naive','Chronic HIV on ART LVL','Chronic HIV on ART HVL','Healthy controls'], datum.group)", "as": "gi"}, {"fold": ["lo", "hi"], "as": ["end", "yv"]}],
      "mark": {"type": "tick", "orient": "horizontal", "color": "black", "opacity": 1, "size": 18, "thickness": 3.5},
      "encoding": {"x": {"field": "gi", "type": "quantitative"}, "y": {"field": "yv", "type": "quantitative"}}},
     {"data": {"name": "C_br"}, "transform": [{"calculate": "indexof(['Early HIV','Chronic HIV ART naive','Chronic HIV on ART LVL','Chronic HIV on ART HVL','Healthy controls'], datum.from)", "as": "g1"}, {"calculate": "indexof(['Early HIV','Chronic HIV ART naive','Chronic HIV on ART LVL','Chronic HIV on ART HVL','Healthy controls'], datum.to)", "as": "g2"}],
      "mark": {"type": "rule", "color": "black", "strokeWidth": 3.5},
      "encoding": {"x": {"field": "g1", "type": "quantitative"}, "x2": {"field": "g2"}, "y": {"field": "level", "type": "quantitative"}}},
     {"data": {"name": "C_br"}, "transform": [{"fold": ["from", "to"], "as": ["end", "grp"]}, {"calculate": "indexof(['Early HIV','Chronic HIV ART naive','Chronic HIV on ART LVL','Chronic HIV on ART HVL','Healthy controls'], datum.grp)", "as": "gi"}],
      "mark": {"type": "tick", "orient": "vertical", "color": "black", "opacity": 1, "size": 23, "thickness": 3.5},
      "encoding": {"x": {"field": "gi", "type": "quantitative"}, "y": {"field": "level", "type": "quantitative"}}},
     {"data": {"name": "C_br"}, "transform": [{"calculate": "indexof(['Early HIV','Chronic HIV ART naive','Chronic HIV on ART LVL','Chronic HIV on ART HVL','Healthy controls'], datum.from)", "as": "g1"}, {"calculate": "indexof(['Early HIV','Chronic HIV ART naive','Chronic HIV on ART LVL','Chronic HIV on ART HVL','Healthy controls'], datum.to)", "as": "g2"}, {"calculate": "(datum.g1 + datum.g2) / 2", "as": "xm"}],
      "mark": {"type": "text", "baseline": "alphabetic", "dy": -12, "fontSize": 16},
      "encoding": {"x": {"field": "xm", "type": "quantitative"}, "y": {"field": "level", "type": "quantitative"}, "text": {"field": "label"}}},
     {"data": {"values": [{"label": "DNT Cells"}]}, "mark": {"type": "text", "fontSize": 22.5},
      "encoding": {"x": {"datum": 1.682}, "y": {"datum": 185.4}, "text": {"field": "label"}}},
     {"data": {"values": [{"label": "(C)"}]}, "mark": {"type": "text", "fontSize": 50, "fontWeight": "bold"},
      "encoding": {"x": {"datum": -2.696}, "y": {"datum": 166.4}, "text": {"field": "label"}}}
    ]}
  ], "spacing": 110}
 ], "spacing": 125},
 {"resolve": {"scale": {"color": "independent", "shape": "independent"}},
  "hconcat": [
  {"width": 374, "height": 461,
   "layer": [
    {"data": {"name": "D"},
     "transform": [
       {"calculate": "indexof(['Early HIV','Chronic HIV ART naive','Chronic HIV on ART LVL','Chronic HIV on ART HVL','Healthy controls'], datum.group)", "as": "gi"},
       {"window": [{"op": "row_number", "as": "rk"}], "groupby": ["group"], "sort": [{"field": "value", "order": "descending"}]},
       {"calculate": "datum.gi + [0, -0.26, 0.26, -0.13, 0.13][datum.rk % 5]", "as": "xj"}],
     "mark": {"type": "point", "filled": true, "opacity": 1, "size": 125},
     "encoding": {
       "x": {"field": "xj", "type": "quantitative", "scale": {"domain": [-0.5, 4.5], "nice": false, "zero": false},
             "axis": {"values": [0,1,2,3,4], "title": null, "labelExpr": "['Early HIV','Chronic HIV ART naive','Chronic HIV on ART LVL','Chronic HIV on ART HVL','Healthy controls'][datum.value]", "labelAngle": -45, "labelAlign": "right", "labelBaseline": "top", "labelPadding": 13, "labelFontSize": 19, "labelOverlap": false, "labelFlush": false}},
       "y": {"field": "value", "type": "quantitative", "scale": {"domain": [0, 92.44], "nice": false},
             "axis": {"values": [0,10,20,30,40,50], "domain": false, "title": "% of γδT Cells", "titleY": 336, "titlePadding": 31, "labelOverlap": false}},
       "color": {"field": "group", "type": "nominal", "legend": null, "scale": {"domain": ["Early HIV","Chronic HIV ART naive","Chronic HIV on ART LVL","Chronic HIV on ART HVL","Healthy controls"], "range": ["#a0a0a0","#1432f0","#ff6414","#c3c300","#14a064"]}},
       "shape": {"field": "group", "type": "nominal", "legend": null, "scale": {"domain": ["Early HIV","Chronic HIV ART naive","Chronic HIV on ART LVL","Chronic HIV on ART HVL","Healthy controls"], "range": ["circle","square","triangle-up","triangle-down","diamond"]}}
     }},
    {"data": {"values": [{}]}, "mark": {"type": "rule", "color": "black", "strokeWidth": 3, "strokeCap": "square"},
     "encoding": {"x": {"datum": -0.5}, "y": {"datum": 0}, "y2": {"datum": 50}}},
    {"data": {"name": "D_stats"}, "transform": [{"calculate": "indexof(['Early HIV','Chronic HIV ART naive','Chronic HIV on ART LVL','Chronic HIV on ART HVL','Healthy controls'], datum.group)", "as": "gi"}],
     "mark": {"type": "rule", "color": "black", "strokeWidth": 3.5},
     "encoding": {"x": {"field": "gi", "type": "quantitative"}, "y": {"field": "lo", "type": "quantitative"}, "y2": {"field": "hi"}}},
    {"data": {"name": "D_stats"}, "transform": [{"calculate": "indexof(['Early HIV','Chronic HIV ART naive','Chronic HIV on ART LVL','Chronic HIV on ART HVL','Healthy controls'], datum.group)", "as": "gi"}],
     "mark": {"type": "tick", "orient": "horizontal", "color": "black", "opacity": 1, "size": 50, "thickness": 3.5},
     "encoding": {"x": {"field": "gi", "type": "quantitative"}, "y": {"field": "mean", "type": "quantitative"}}},
    {"data": {"name": "D_stats"}, "transform": [{"calculate": "indexof(['Early HIV','Chronic HIV ART naive','Chronic HIV on ART LVL','Chronic HIV on ART HVL','Healthy controls'], datum.group)", "as": "gi"}, {"fold": ["lo", "hi"], "as": ["end", "yv"]}],
     "mark": {"type": "tick", "orient": "horizontal", "color": "black", "opacity": 1, "size": 24, "thickness": 3.5},
     "encoding": {"x": {"field": "gi", "type": "quantitative"}, "y": {"field": "yv", "type": "quantitative"}}},
    {"data": {"name": "D_br"}, "transform": [{"calculate": "indexof(['Early HIV','Chronic HIV ART naive','Chronic HIV on ART LVL','Chronic HIV on ART HVL','Healthy controls'], datum.from)", "as": "g1"}, {"calculate": "indexof(['Early HIV','Chronic HIV ART naive','Chronic HIV on ART LVL','Chronic HIV on ART HVL','Healthy controls'], datum.to)", "as": "g2"}],
     "mark": {"type": "rule", "color": "black", "strokeWidth": 3.5},
     "encoding": {"x": {"field": "g1", "type": "quantitative"}, "x2": {"field": "g2"}, "y": {"field": "level", "type": "quantitative"}}},
    {"data": {"name": "D_br"}, "transform": [{"fold": ["from", "to"], "as": ["end", "grp"]}, {"calculate": "indexof(['Early HIV','Chronic HIV ART naive','Chronic HIV on ART LVL','Chronic HIV on ART HVL','Healthy controls'], datum.grp)", "as": "gi"}],
     "mark": {"type": "tick", "orient": "vertical", "color": "black", "opacity": 1, "size": 21, "thickness": 3.5},
     "encoding": {"x": {"field": "gi", "type": "quantitative"}, "y": {"field": "level", "type": "quantitative"}}},
    {"data": {"name": "D_br"}, "transform": [{"calculate": "indexof(['Early HIV','Chronic HIV ART naive','Chronic HIV on ART LVL','Chronic HIV on ART HVL','Healthy controls'], datum.from)", "as": "g1"}, {"calculate": "indexof(['Early HIV','Chronic HIV ART naive','Chronic HIV on ART LVL','Chronic HIV on ART HVL','Healthy controls'], datum.to)", "as": "g2"}, {"calculate": "(datum.g1 + datum.g2) / 2", "as": "xm"}],
     "mark": {"type": "text", "baseline": "alphabetic", "dy": -6},
     "encoding": {"x": {"field": "xm", "type": "quantitative"}, "y": {"field": "level", "type": "quantitative"}, "text": {"field": "label"},
                  "size": {"condition": [
                    {"test": "datum.from == 'Early HIV' && datum.to == 'Chronic HIV on ART HVL'", "value": 23},
                    {"test": "datum.from == 'Chronic HIV ART naive' && datum.to == 'Healthy controls'", "value": 23},
                    {"test": "datum.from == 'Chronic HIV on ART LVL'", "value": 23},
                    {"test": "datum.from == 'Early HIV' && datum.to == 'Chronic HIV on ART LVL'", "value": 20},
                    {"test": "datum.from == 'Chronic HIV ART naive' && datum.to == 'Chronic HIV on ART HVL'", "value": 18},
                    {"test": "datum.from == 'Chronic HIV on ART HVL'", "value": 16.5}], "value": 15}}},
    {"data": {"values": [{"label": "γδ+CD8+ T Cells"}]}, "mark": {"type": "text", "fontSize": 23.5},
     "encoding": {"x": {"datum": 1.584}, "y": {"datum": 86.3}, "text": {"field": "label"}}},
    {"data": {"values": [{"label": "(D)"}]}, "mark": {"type": "text", "fontSize": 50, "fontWeight": "bold"},
     "encoding": {"x": {"datum": -2.012}, "y": {"datum": 79.2}, "text": {"field": "label"}}}
   ]},
  {"width": 359, "height": 381,
   "layer": [
    {"data": {"name": "E"},
     "transform": [
       {"calculate": "indexof(['Early HIV','Chronic HIV ART naive','Chronic HIV on ART LVL','Chronic HIV on ART HVL','Healthy controls'], datum.group)", "as": "gi"},
       {"window": [{"op": "row_number", "as": "rk"}], "groupby": ["group"], "sort": [{"field": "value", "order": "descending"}]},
       {"calculate": "datum.gi + [0, -0.26, 0.26, -0.13, 0.13][datum.rk % 5]", "as": "xj"}],
     "mark": {"type": "point", "filled": true, "opacity": 1, "size": 125},
     "encoding": {
       "x": {"field": "xj", "type": "quantitative", "scale": {"domain": [-0.5, 4.5], "nice": false, "zero": false},
             "axis": {"values": [0,1,2,3,4], "title": null, "labelExpr": "['Early HIV','Chronic HIV ART naive','Chronic HIV on ART LVL','Chronic HIV on ART HVL','Healthy controls'][datum.value]", "labelAngle": -45, "labelAlign": "right", "labelBaseline": "top", "labelPadding": 13, "labelOverlap": false, "labelFlush": false}},
       "y": {"field": "value", "type": "quantitative", "scale": {"domain": [0, 128.4], "nice": false},
             "axis": {"values": [0,20,40,60,80], "domain": false, "title": "% of γδT Cells", "titleY": 262, "titlePadding": 29, "labelOverlap": false}},
       "color": {"field": "group", "type": "nominal", "legend": null, "scale": {"domain": ["Early HIV","Chronic HIV ART naive","Chronic HIV on ART LVL","Chronic HIV on ART HVL","Healthy controls"], "range": ["#a0a0a0","#1428c8","#f01414","#c3c300","#0a6e46"]}},
       "shape": {"field": "group", "type": "nominal", "legend": null, "scale": {"domain": ["Early HIV","Chronic HIV ART naive","Chronic HIV on ART LVL","Chronic HIV on ART HVL","Healthy controls"], "range": ["circle","square","triangle-up","triangle-down","diamond"]}}
     }},
    {"data": {"values": [{}]}, "mark": {"type": "rule", "color": "black", "strokeWidth": 3, "strokeCap": "square"},
     "encoding": {"x": {"datum": -0.5}, "y": {"datum": 0}, "y2": {"datum": 80}}},
    {"data": {"name": "E_stats"}, "transform": [{"calculate": "indexof(['Early HIV','Chronic HIV ART naive','Chronic HIV on ART LVL','Chronic HIV on ART HVL','Healthy controls'], datum.group)", "as": "gi"}],
     "mark": {"type": "rule", "color": "black", "strokeWidth": 3.5},
     "encoding": {"x": {"field": "gi", "type": "quantitative"}, "y": {"field": "lo", "type": "quantitative"}, "y2": {"field": "hi"}}},
    {"data": {"name": "E_stats"}, "transform": [{"calculate": "indexof(['Early HIV','Chronic HIV ART naive','Chronic HIV on ART LVL','Chronic HIV on ART HVL','Healthy controls'], datum.group)", "as": "gi"}],
     "mark": {"type": "tick", "orient": "horizontal", "color": "black", "opacity": 1, "size": 48, "thickness": 3.5},
     "encoding": {"x": {"field": "gi", "type": "quantitative"}, "y": {"field": "mean", "type": "quantitative"}}},
    {"data": {"name": "E_stats"}, "transform": [{"calculate": "indexof(['Early HIV','Chronic HIV ART naive','Chronic HIV on ART LVL','Chronic HIV on ART HVL','Healthy controls'], datum.group)", "as": "gi"}, {"fold": ["lo", "hi"], "as": ["end", "yv"]}],
     "mark": {"type": "tick", "orient": "horizontal", "color": "black", "opacity": 1, "size": 22, "thickness": 3.5},
     "encoding": {"x": {"field": "gi", "type": "quantitative"}, "y": {"field": "yv", "type": "quantitative"}}},
    {"data": {"name": "E_br"}, "transform": [{"calculate": "indexof(['Early HIV','Chronic HIV ART naive','Chronic HIV on ART LVL','Chronic HIV on ART HVL','Healthy controls'], datum.from)", "as": "g1"}, {"calculate": "indexof(['Early HIV','Chronic HIV ART naive','Chronic HIV on ART LVL','Chronic HIV on ART HVL','Healthy controls'], datum.to)", "as": "g2"}],
     "mark": {"type": "rule", "color": "black", "strokeWidth": 3.5},
     "encoding": {"x": {"field": "g1", "type": "quantitative"}, "x2": {"field": "g2"}, "y": {"field": "level", "type": "quantitative"}}},
    {"data": {"name": "E_br"}, "transform": [{"fold": ["from", "to"], "as": ["end", "grp"]}, {"calculate": "indexof(['Early HIV','Chronic HIV ART naive','Chronic HIV on ART LVL','Chronic HIV on ART HVL','Healthy controls'], datum.grp)", "as": "gi"}],
     "mark": {"type": "tick", "orient": "vertical", "color": "black", "opacity": 1, "size": 23, "thickness": 3.5},
     "encoding": {"x": {"field": "gi", "type": "quantitative"}, "y": {"field": "level", "type": "quantitative"}}},
    {"data": {"name": "E_br"}, "transform": [{"calculate": "indexof(['Early HIV','Chronic HIV ART naive','Chronic HIV on ART LVL','Chronic HIV on ART HVL','Healthy controls'], datum.from)", "as": "g1"}, {"calculate": "indexof(['Early HIV','Chronic HIV ART naive','Chronic HIV on ART LVL','Chronic HIV on ART HVL','Healthy controls'], datum.to)", "as": "g2"}, {"calculate": "(datum.g1 + datum.g2) / 2", "as": "xm"}],
     "mark": {"type": "text", "baseline": "alphabetic", "dy": -11},
     "encoding": {"x": {"field": "xm", "type": "quantitative"}, "y": {"field": "level", "type": "quantitative"}, "text": {"field": "label"},
                  "size": {"condition": {"test": "datum.from == 'Early HIV' && datum.to == 'Healthy controls'", "value": 17}, "value": 16}}},
    {"data": {"values": [{"label": "γδ+CD16+ T Cells"}]}, "mark": {"type": "text", "fontSize": 20.5},
     "encoding": {"x": {"datum": 1.854}, "y": {"datum": 124.2}, "text": {"field": "label"}}},
    {"data": {"values": [{"label": "(E)"}]}, "mark": {"type": "text", "fontSize": 50, "fontWeight": "bold"},
     "encoding": {"x": {"datum": -2.41}, "y": {"datum": 112.5}, "text": {"field": "label"}}}
   ]}
 ], "spacing": 130}
],
"spacing": 3
}
